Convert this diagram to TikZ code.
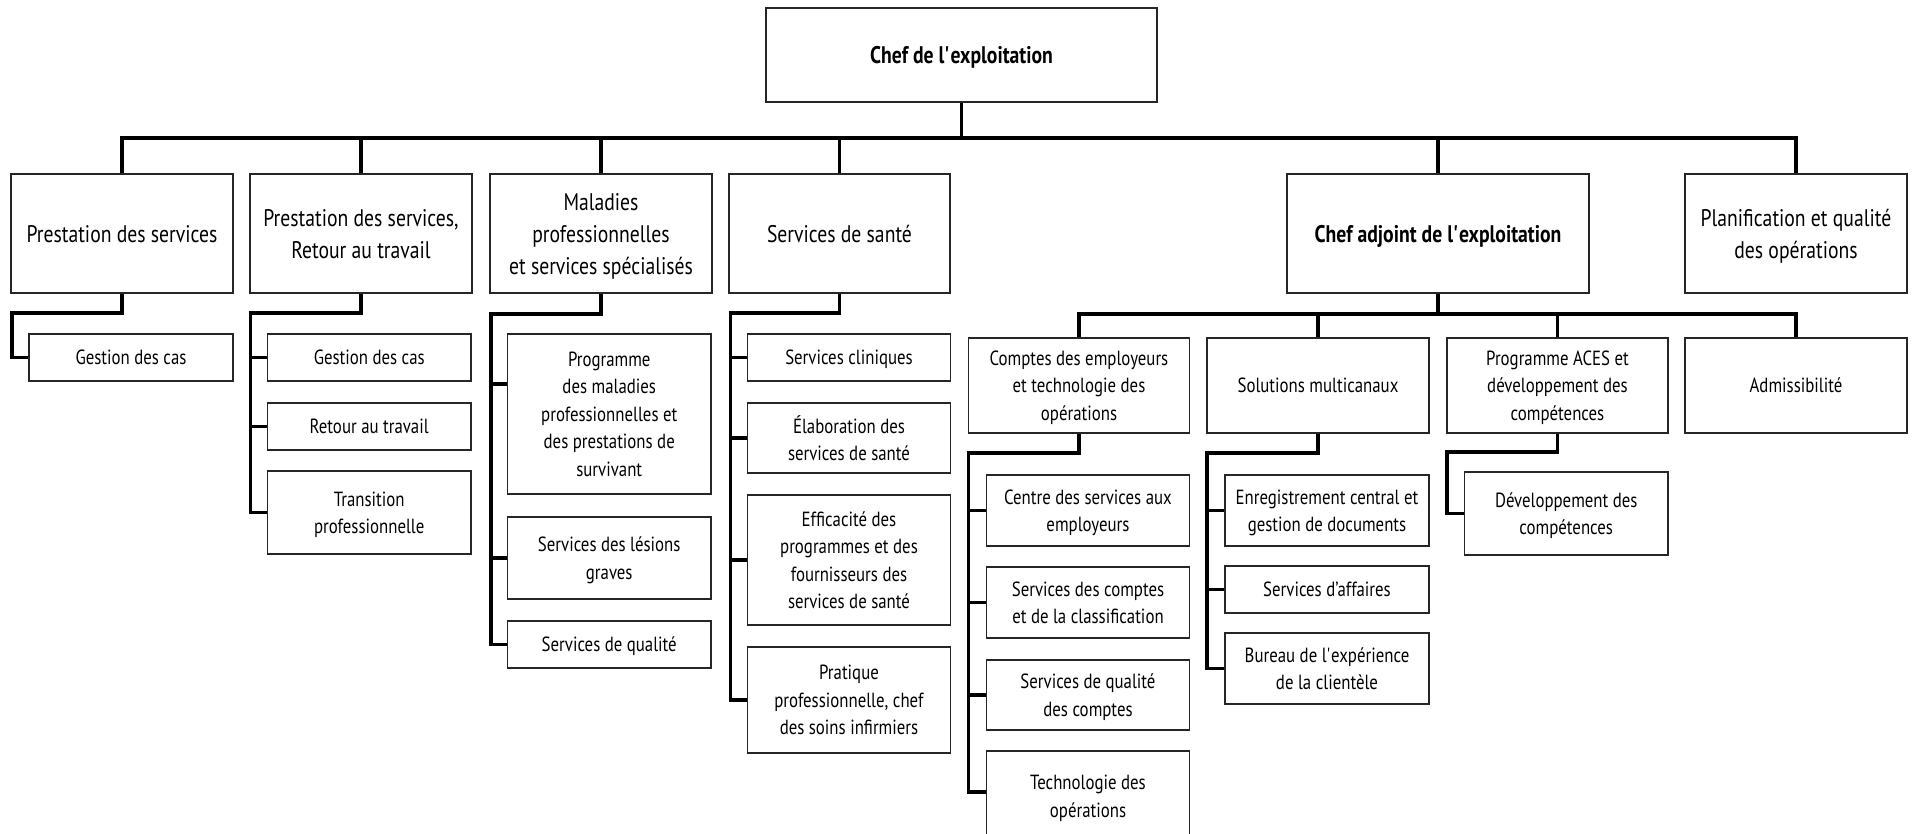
\documentclass[tikz,border=0pt]{standalone}
\usepackage{fontspec}
\setmainfont{PT Sans}[FakeStretch=0.82]
\newcommand{\sq}{\textquotesingle}
\begin{document}
\begin{tikzpicture}[x=1pt,y=-1pt,
  box/.style={draw=black!85, line width=1.9pt, fill=white, align=center, inner sep=1pt,
    text depth=0pt, font=\fontsize{20.5}{27.5}\selectfont},
  big/.style={font=\fontsize{24}{32}\selectfont},
  bigb/.style={font=\fontsize{24}{32}\selectfont\bfseries},
  conn/.style={line width=3.2pt, draw=black, line join=miter}]
\useasboundingbox (0,0) rectangle (1915,833);
\clip (0,0) rectangle (1915,833);
% top
\node[box,bigb,minimum width=391pt,minimum height=94pt] (top) at (961.5,55) {Chef de l\sq exploitation};
% level 1
\node[box,big,minimum width=222pt,minimum height=119pt] (p1) at (122,233.5) {Prestation des services};
\node[box,big,minimum width=222pt,minimum height=119pt] (p2) at (361,233.5) {Prestation des services,\\Retour au travail};
\node[box,big,minimum width=222pt,minimum height=119pt] (p3) at (601,233.5) {Maladies\\professionnelles\\et services spécialisés};
\node[box,big,minimum width=221pt,minimum height=119pt] (p4) at (839.5,233.5) {Services de santé};
\node[box,bigb,minimum width=301.5pt,minimum height=119pt] (p5) at (1438,233.5) {Chef adjoint de l\sq exploitation};
\node[box,big,minimum width=221.5pt,minimum height=119pt] (p6) at (1796,233.5) {Planification et qualité\\des opérations};
% level 2
\node[box,minimum width=221pt,minimum height=95pt] (q1) at (1079,385.5) {Comptes des employeurs\\et technologie des\\opérations};
\node[box,minimum width=222pt,minimum height=95pt] (q2) at (1318,385.5) {Solutions multicanaux};
\node[box,minimum width=221pt,minimum height=95pt] (q3) at (1557.5,385.5) {Programme ACES et\\développement des\\compétences};
\node[box,minimum width=221.5pt,minimum height=95pt] (q4) at (1796,385.5) {Admissibilité};
% children p1
\node[box,minimum width=204pt,minimum height=47pt] (c1a) at (131,357.5) {Gestion des cas};
% children p2
\node[box,minimum width=203.5pt,minimum height=47pt] (c2a) at (369.25,357.5) {Gestion des cas};
\node[box,minimum width=203.5pt,minimum height=47pt] (c2b) at (369.25,426.5) {Retour au travail};
\node[box,minimum width=203.5pt,minimum height=83pt] (c2c) at (369.25,512.5) {Transition\\professionnelle};
% children p3
\node[box,minimum width=203.5pt,minimum height=160pt] (c3a) at (609.25,414) {Programme\\des maladies\\professionnelles et\\des prestations de\\survivant};
\node[box,minimum width=203.5pt,minimum height=82pt] (c3b) at (609.25,558) {Services des lésions\\graves};
\node[box,minimum width=203.5pt,minimum height=47pt] (c3c) at (609.25,644.5) {Services de qualité};
% children p4
\node[box,minimum width=203pt,minimum height=47pt] (c4a) at (849,357.5) {Services cliniques};
\node[box,minimum width=203pt,minimum height=70pt] (c4b) at (849,438) {Élaboration des\\services de santé};
\node[box,minimum width=203pt,minimum height=130pt] (c4c) at (849,560) {Efficacité des\\programmes et des\\fournisseurs des\\services de santé};
\node[box,minimum width=203pt,minimum height=106pt] (c4d) at (849,700) {Pratique\\professionnelle, chef\\des soins infirmiers};
% children q1
\node[box,minimum width=203pt,minimum height=71pt] (d1a) at (1088,510.5) {Centre des services aux\\employeurs};
\node[box,minimum width=203pt,minimum height=71pt] (d1b) at (1088,602.5) {Services des comptes\\et de la classification};
\node[box,minimum width=203pt,minimum height=70pt] (d1c) at (1088,695) {Services de qualité\\des comptes};
\node[box,minimum width=203pt,minimum height=90pt] (d1d) at (1088,796) {Technologie des\\opérations};
% children q2
\node[box,minimum width=203.5pt,minimum height=71pt] (d2a) at (1327,510.5) {Enregistrement central et\\gestion de documents};
\node[box,minimum width=203.5pt,minimum height=47pt] (d2b) at (1327,589.5) {Services d’affaires};
\node[box,minimum width=203.5pt,minimum height=71pt] (d2c) at (1327,668.5) {Bureau de l\sq expérience\\de la clientèle};
% children q3
\node[box,minimum width=203.5pt,minimum height=83pt] (d3a) at (1566.25,513.5) {Développement des\\compétences};
% bars
\coordinate (b0) at (961.5,138);
\coordinate (b1) at (1438,314);
\draw[conn] (top.south) -- (top.south |- b0);
\draw[conn] (p1.north) -- (p1.north |- b0) -- (p6.north |- b0) -- (p6.north);
\foreach \n in {p2,p3,p4,p5} \draw[conn] (\n.north) -- (\n.north |- b0);
\draw[conn] (p5.south) -- (p5.south |- b1);
\draw[conn] (q1.north) -- (q1.north |- b1) -- (q4.north |- b1) -- (q4.north);
\foreach \n in {q2,q3} \draw[conn] (\n.north) -- (\n.north |- b1);
% elbows
\coordinate (v1) at (12,313);
\coordinate (v2) at (250.5,313);
\coordinate (v3) at (491,314);
\coordinate (v4) at (730.5,313);
\coordinate (w1) at (968.5,453);
\coordinate (w2) at (1207,453);
\coordinate (w3) at (1447,452);
\draw[conn] (p1.south) |- (v1) |- (c1a.west);
\draw[conn] (p2.south) |- (v2) |- (c2c.west);
\foreach \n in {c2a,c2b} \draw[conn] (v2) |- (\n.west);
\draw[conn] (p3.south) |- (v3) |- (c3c.west);
\draw[conn] (v3) |- ([yshift=30pt]c3a.west);
\draw[conn] (v3) |- (c3b.west);
\draw[conn] (p4.south) |- (v4) |- (c4d.west);
\foreach \n in {c4a,c4b,c4c} \draw[conn] (v4) |- (\n.west);
\draw[conn] (q1.south) |- (w1) |- ([yshift=4pt]d1d.west);
\foreach \n in {d1a,d1b,d1c} \draw[conn] (w1) |- (\n.west);
\draw[conn] (q2.south) |- (w2) |- (d2c.west);
\foreach \n in {d2a,d2b} \draw[conn] (w2) |- (\n.west);
\draw[conn] (q3.south) |- (w3) |- (d3a.west);
\end{tikzpicture}
\end{document}
